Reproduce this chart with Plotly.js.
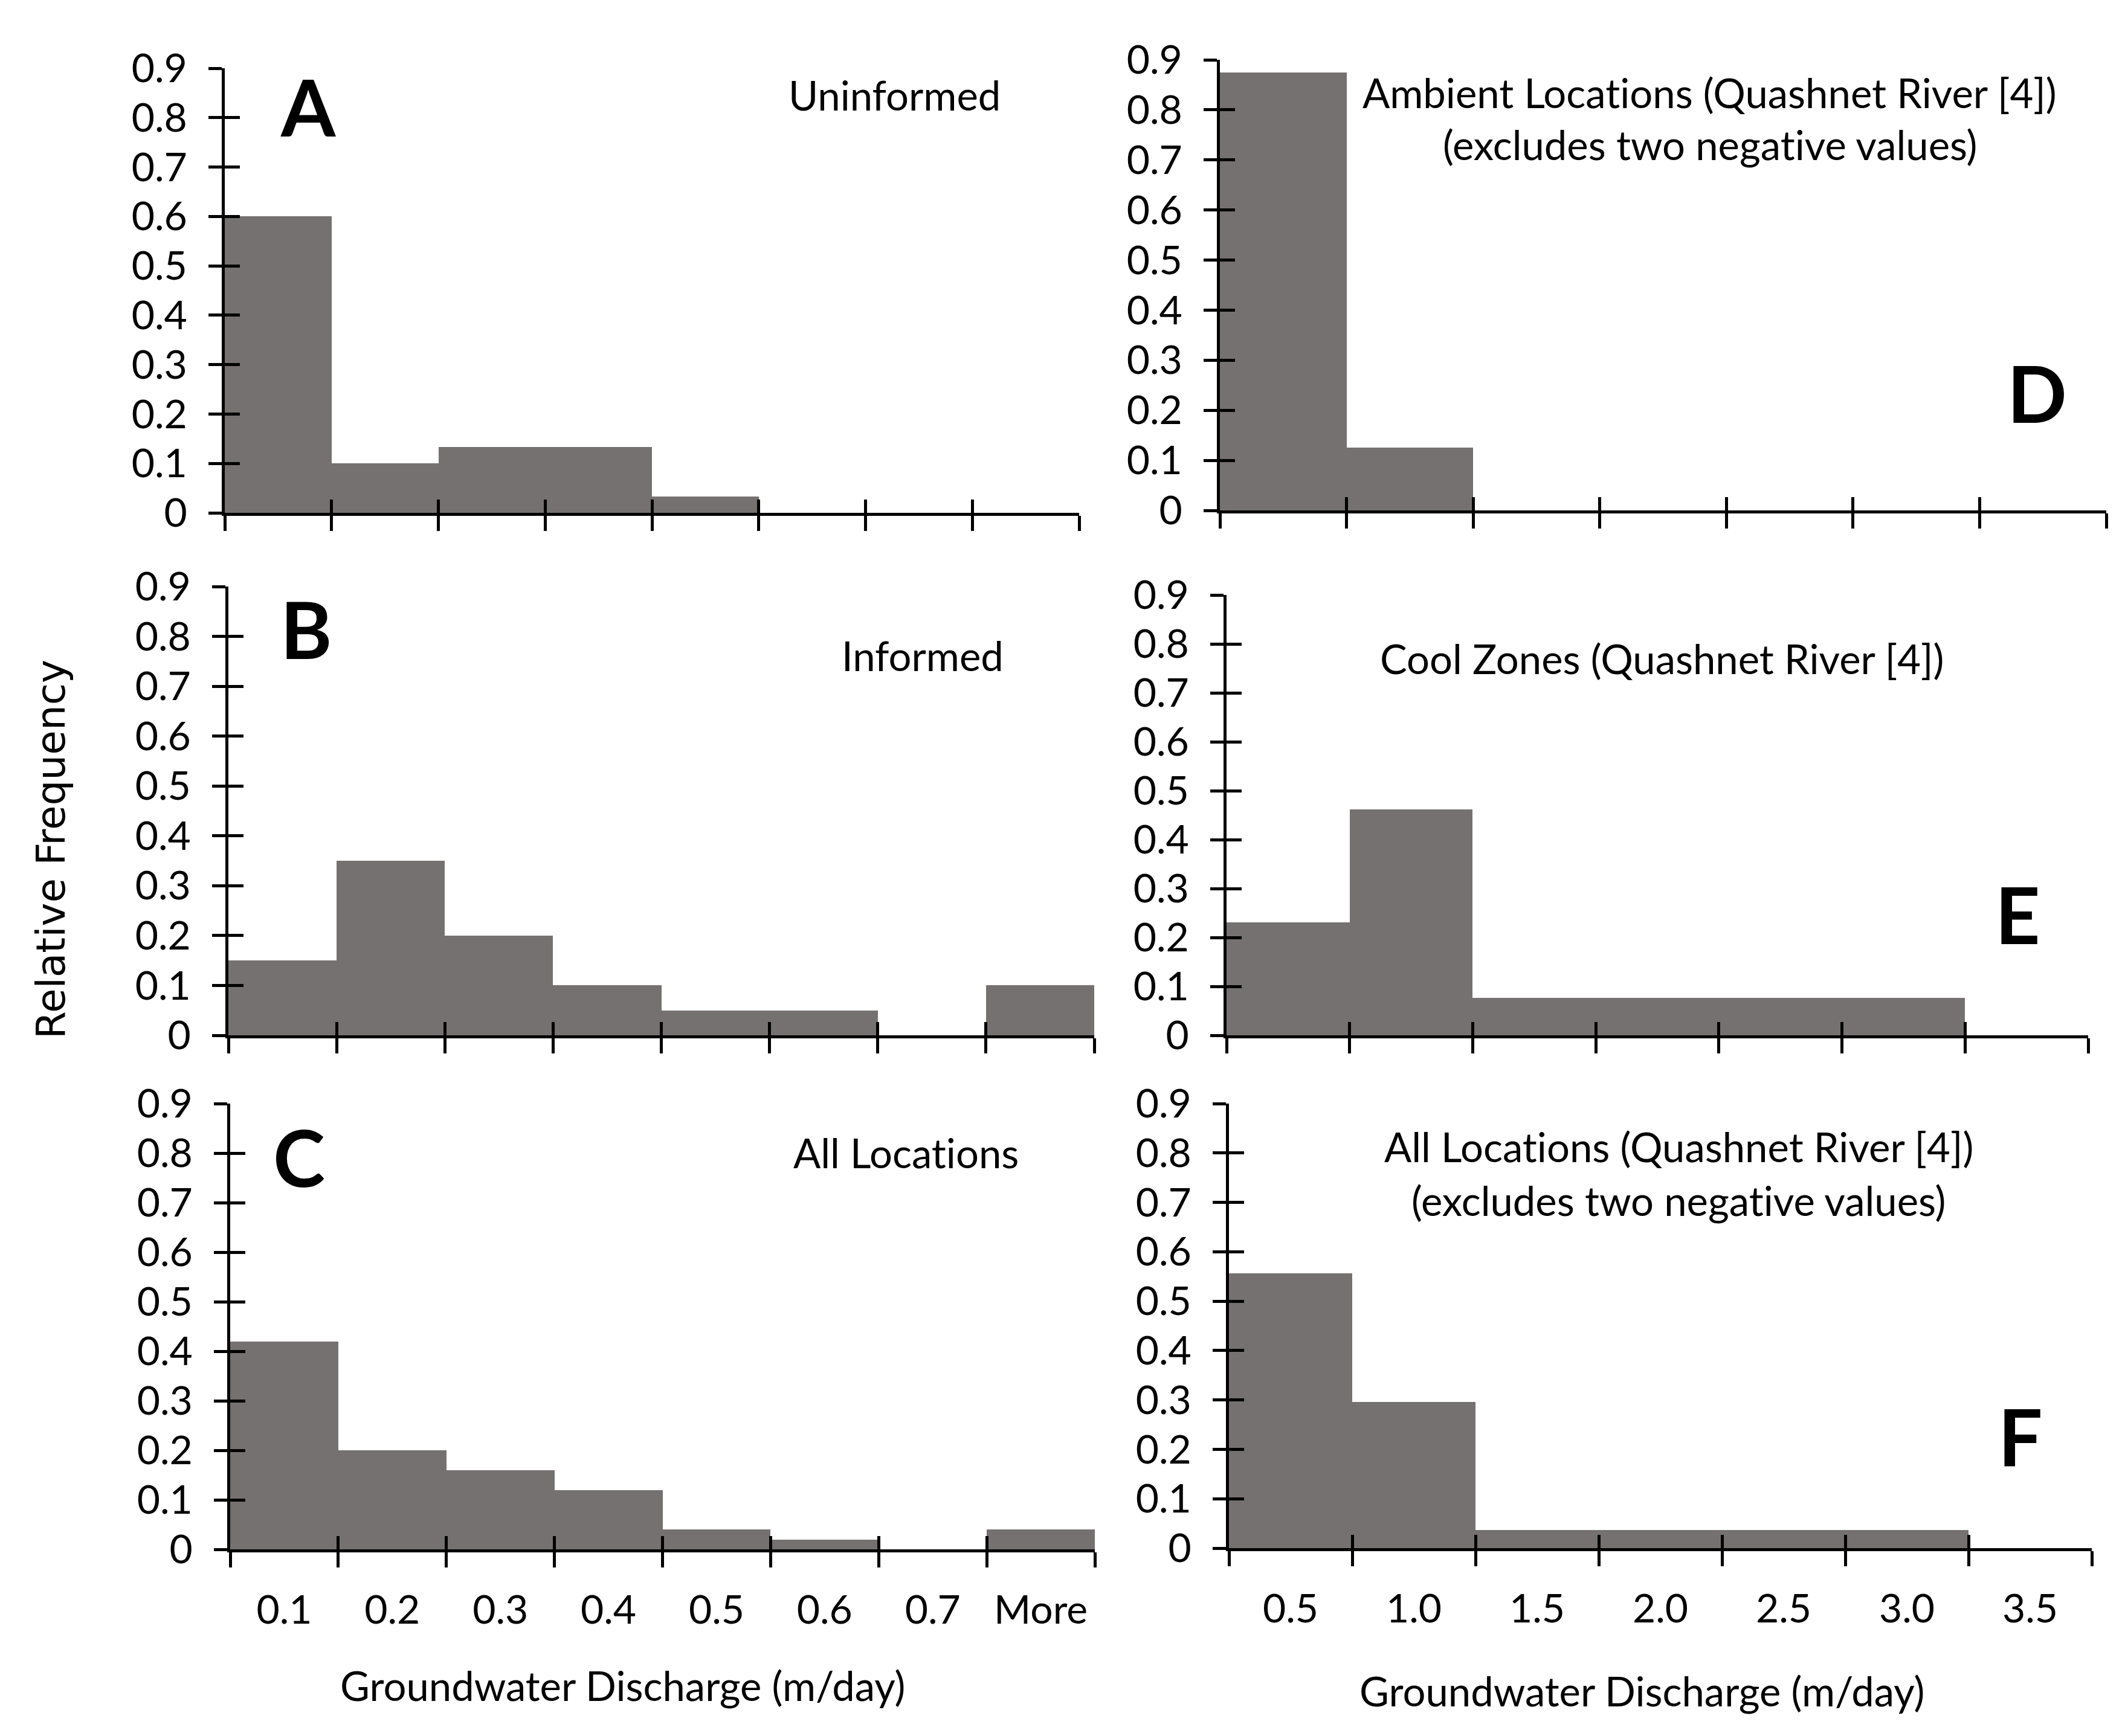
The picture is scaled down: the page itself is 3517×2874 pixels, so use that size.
<!DOCTYPE html>
<html>
<head>
<meta charset="utf-8">
<script src="https://cdn.plot.ly/plotly-3.0.1.min.js"></script>
<style>
html,body{margin:0;padding:0;background:#fff;}
#chart{width:3517px;height:2874px;}
svg text{font-variant-ligatures:none;font-feature-settings:"liga" 0;}
</style>
</head>
<body>
<div id="chart"></div>
<script>
// ---------------- DATA ----------------
const binsLeft  = ['0.1','0.2','0.3','0.4','0.5','0.6','0.7','More'];
const binsRight = ['0.5','1.0','1.5','2.0','2.5','3.0','3.5'];

const freqA = [0.6, 0.1, 0.133, 0.133, 0.033, 0, 0, 0];          // Uninformed
const freqB = [0.15, 0.35, 0.2, 0.1, 0.05, 0.05, 0, 0.1];        // Informed
const freqC = [0.42, 0.2, 0.16, 0.12, 0.04, 0.02, 0, 0.04];      // All Locations
const freqD = [0.875, 0.125, 0, 0, 0, 0, 0];                     // Ambient (Quashnet)
const freqE = [0.231, 0.462, 0.077, 0.077, 0.077, 0.077, 0];     // Cool Zones (Quashnet)
const freqF = [0.556, 0.296, 0.037, 0.037, 0.037, 0.037, 0];     // All Locations (Quashnet)

const yTickVals = [0, 0.1, 0.2, 0.3, 0.4, 0.5, 0.6, 0.7, 0.8, 0.9];
const yTickText = ['0', '0.1', '0.2', '0.3', '0.4', '0.5', '0.6', '0.7', '0.8', '0.9'];

const panelLetters = ['A', 'B', 'C', 'D', 'E', 'F'];
const panelTitles = [
  ['Uninformed'],
  ['Informed'],
  ['All Locations'],
  ['Ambient Locations (Quashnet River [4])', '(excludes two negative values)'],
  ['Cool Zones (Quashnet River [4])'],
  ['All Locations (Quashnet River [4])', '(excludes two negative values)']
];
const xTitle = 'Groundwater Discharge (m/day)';
const yTitle = 'Relative Frequency';

// ---------------- LAYOUT GEOMETRY (pixels) ----------------
const W = 3517, H = 2874;
const FONT = 'Lato, "Open Sans", sans-serif';
const TICK_SIZE = 66, TEXT_SIZE = 67;
const BAR = '#767171';
const px = v => v / W;
const py = v => 1 - v / H;

// x0,x1: axis left/right ; yz: zero line ; yt: 0.9 line
const geo = [
  {x0: 372,  x1: 1786, yz: 849,  yt: 113,  freq: freqA, bins: binsLeft,  labels: false,
   letter: [510, 176],  titles: [[1480, 157]]},
  {x0: 378,  x1: 1811, yz: 1714, yt: 971,  freq: freqB, bins: binsLeft,  labels: false,
   letter: [507, 1041], titles: [[1527, 1085]]},
  {x0: 381,  x1: 1812, yz: 2565, yt: 1827, freq: freqC, bins: binsLeft,  labels: true,
   letter: [495, 1915], titles: [[1499, 1908]], xt: [1030, 2790]},
  {x0: 2019, x1: 3486, yz: 845,  yt: 99,   freq: freqD, bins: binsRight, labels: false,
   letter: [3371, 650], titles: [[2829, 153], [2830, 239]]},
  {x0: 2030, x1: 3456, yz: 1714, yt: 985,  freq: freqE, bins: binsRight, labels: false,
   letter: [3339, 1513], titles: [[2751, 1090]]},
  {x0: 2034, x1: 3462, yz: 2563, yt: 1827, freq: freqF, bins: binsRight, labels: true,
   letter: [3344, 2377], titles: [[2778, 1898], [2778, 1987]], xt: [2717, 2799]}
];

const traces = [];
const layout = {
  width: W, height: H,
  margin: {l: 0, r: 0, t: 0, b: 0},
  paper_bgcolor: '#fff', plot_bgcolor: 'rgba(0,0,0,0)',
  showlegend: false, bargap: 0,
  font: {family: FONT, size: TEXT_SIZE, color: '#000'},
  annotations: []
};

const N = geo.length;
let labelAxis = 2 * N + 1;
geo.forEach((g, i) => {
  const k = i + 1;
  const nb = g.bins.length;
  const centers = g.bins.map((_, j) => j + 0.5);
  const edges = [];
  for (let j = 0; j <= nb; j++) edges.push(j);
  const xd = [px(g.x0), px(g.x1)];
  const yd = [py(g.yz), py(g.yt)];

  traces.push({
    type: 'bar', x: centers, y: g.freq, width: 1,
    xaxis: 'x' + k, yaxis: 'y' + k,
    marker: {color: BAR, line: {width: 0}},
    hoverinfo: 'skip'
  });

  // main axes (outside ticks + lines)
  layout['xaxis' + k] = {
    domain: xd, range: [0, nb], anchor: 'y' + k, fixedrange: true,
    showline: true, linewidth: 5, linecolor: '#000',
    tickmode: 'array', tickvals: edges, ticks: 'outside', ticklen: 25, tickwidth: 5, tickcolor: '#000',
    showticklabels: false, showgrid: false, zeroline: false
  };
  layout['yaxis' + k] = {
    domain: yd, range: [0, 0.9], anchor: 'x' + k, fixedrange: true,
    showline: true, linewidth: 5, linecolor: '#000',
    tickmode: 'array', tickvals: yTickVals, ticktext: yTickText,
    ticks: 'outside', ticklen: 22, tickwidth: 5, tickcolor: '#000',
    tickfont: {family: FONT, size: TICK_SIZE, color: '#000'},
    ticklabelstandoff: 22,
    showgrid: false, zeroline: false
  };
  // overlay axes for inside half of crossing ticks
  const ko = k + N;
  layout['xaxis' + ko] = {
    overlaying: 'x' + k, anchor: 'y' + k, side: 'bottom', range: [0, nb], fixedrange: true,
    showline: false, tickmode: 'array', tickvals: edges, ticks: 'inside', ticklen: 22, tickwidth: 5,
    tickcolor: '#000', showticklabels: false, showgrid: false, zeroline: false
  };
  layout['yaxis' + ko] = {
    overlaying: 'y' + k, anchor: 'x' + k, side: 'left', range: [0, 0.9], fixedrange: true,
    showline: false, tickmode: 'array', tickvals: yTickVals, ticks: 'inside', ticklen: 25, tickwidth: 5,
    tickcolor: '#000', showticklabels: false, showgrid: false, zeroline: false
  };
  traces.push({type: 'scatter', x: [null], y: [null], xaxis: 'x' + ko, yaxis: 'y' + k, hoverinfo: 'skip', showlegend: false});
  traces.push({type: 'scatter', x: [null], y: [null], xaxis: 'x' + k, yaxis: 'y' + ko, hoverinfo: 'skip', showlegend: false});

  if (g.labels) {
    const kl = labelAxis++;
    layout['xaxis' + kl] = {
      overlaying: 'x' + k, anchor: 'y' + k, side: 'bottom', range: [0, nb], fixedrange: true,
      showline: false, tickmode: 'array', tickvals: centers, ticktext: g.bins,
      ticks: 'outside', ticklen: 25, tickcolor: 'rgba(0,0,0,0)', ticklabelstandoff: 18,
      tickfont: {family: FONT, size: TICK_SIZE, color: '#000'},
      showgrid: false, zeroline: false
    };
    traces.push({type: 'scatter', x: [null], y: [null], xaxis: 'x' + kl, yaxis: 'y' + k, hoverinfo: 'skip', showlegend: false});
    layout.annotations.push({
      text: xTitle, xref: 'paper', yref: 'paper', x: px(g.xt[0]), y: py(g.xt[1]),
      xanchor: 'center', yanchor: 'middle', showarrow: false,
      font: {family: FONT, size: TEXT_SIZE, color: '#000'}
    });
  }

  layout.annotations.push({
    text: '<b>' + panelLetters[i] + '</b>', xref: 'paper', yref: 'paper',
    x: px(g.letter[0]), y: py(g.letter[1]), xanchor: 'center', yanchor: 'middle', showarrow: false,
    font: {family: FONT, size: 130, color: '#000'}
  });
  panelTitles[i].forEach((t, j) => {
    layout.annotations.push({
      text: t, xref: 'paper', yref: 'paper', x: px(g.titles[j][0]), y: py(g.titles[j][1]),
      xanchor: 'center', yanchor: 'middle', showarrow: false,
      font: {family: FONT, size: TEXT_SIZE, color: '#000'}
    });
  });
});

layout.annotations.push({
  text: yTitle, xref: 'paper', yref: 'paper', x: px(85), y: py(1406),
  xanchor: 'center', yanchor: 'middle', textangle: -90, showarrow: false,
  font: {family: '"DejaVu Sans", sans-serif', size: 66, color: '#000'}
});

Plotly.newPlot('chart', traces, layout, {staticPlot: true, displayModeBar: false});
</script>
</body>
</html>
